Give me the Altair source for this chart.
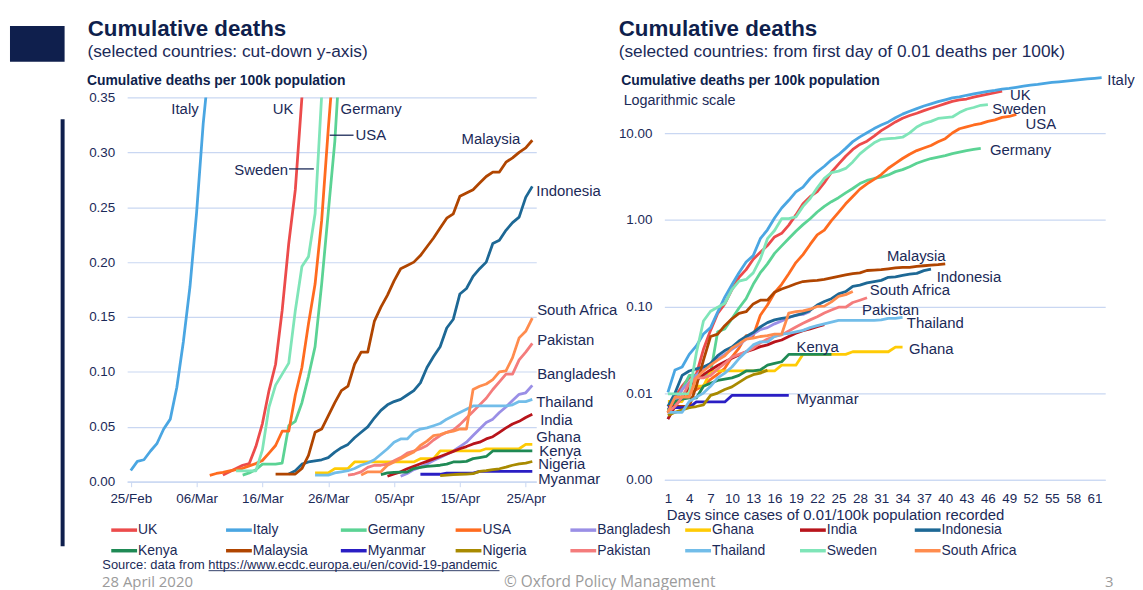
import altair as alt
import pandas as pd

# ---------------- data ----------------
countries = ["UK", "Italy", "Germany", "USA", "Bangladesh", "Ghana", "India", "Indonesia",
             "Kenya", "Malaysia", "Myanmar", "Nigeria", "Pakistan", "Thailand", "Sweden", "South Africa"]
line_colors = ["#ec4b4b", "#4aa6e2", "#5bd394", "#ff6b1f", "#9a8fe6", "#ffcb05", "#b8141b", "#1d6895",
               "#1f8a55", "#b04500", "#2a1ec4", "#a88a00", "#f47c7c", "#72bde9", "#7fe5b8", "#ff8c4e"]
# index of the first plotted day in the left chart (0 = 25 Feb)
start_index = [14, 0, 17, 12, 41, 28, 39, 24, 38, 22, 44, 47, 33, 28, 16, 35]

uk = [0.006, 0.009, 0.012, 0.015, 0.0165, 0.032, 0.053, 0.083, 0.107, 0.156,
      0.217, 0.266, 0.350, 0.423, 0.504, 0.635, 0.699, 0.869, 1.14, 1.53,
      1.85, 2.12, 2.69, 3.54, 4.39, 5.42, 6.49, 7.42, 8.08, 9.26,
      10.7, 12.0, 13.5, 14.9, 16.0, 17.0, 18.2, 19.4, 20.6, 21.9,
      23.3, 24.2, 24.8, 26.1, 27.2, 28.2, 29.3, 30.6]
italy = [0.0102, 0.0185, 0.020, 0.028, 0.035, 0.048, 0.057, 0.086, 0.128, 0.178,
         0.245, 0.326, 0.386, 0.606, 0.767, 1.05, 1.37, 1.68, 2.10, 2.39,
         3.00, 3.58, 4.15, 4.93, 5.64, 6.68, 7.99, 9.07, 10.1, 11.3,
         12.4, 13.5, 15.1, 16.6, 17.9, 19.2, 20.6, 21.8, 23.1, 24.3,
         25.5, 26.3, 27.4, 28.4, 29.3, 30.3, 31.2, 32.3, 33.0, 33.9,
         34.9, 35.9, 36.7, 37.7, 38.5, 39.2, 40.0, 40.8, 41.6, 42.3,
         43.0, 43.7]
germany = [0.006, 0.008, 0.011, 0.016, 0.016, 0.016, 0.017, 0.051, 0.055, 0.072,
           0.096, 0.123, 0.180, 0.245, 0.31, 0.41, 0.50, 0.61, 0.74, 0.88,
           1.03, 1.23, 1.43, 1.62, 1.80, 2.05, 2.30, 2.62, 2.85, 3.0,
           3.1, 3.3, 3.6, 3.8, 4.1, 4.5, 4.8, 5.1, 5.3, 5.5,
           5.8, 6.05, 6.3, 6.5, 6.68]
usa = [0.0058, 0.0075, 0.0085, 0.0098, 0.011, 0.0122, 0.0144, 0.0165, 0.0193, 0.026,
       0.033, 0.046, 0.046, 0.079, 0.104, 0.144, 0.180, 0.238, 0.321, 0.397,
       0.52, 0.67, 0.76, 0.98, 1.22, 1.53, 1.86, 2.26, 2.60, 2.93,
       3.33, 3.94, 4.49, 5.10, 5.72, 6.30, 6.75, 7.21, 7.95, 8.65,
       10.05, 11.25, 11.83, 12.44, 12.87, 13.69, 14.24, 15.22, 15.59, 16.47]
bangladesh = [0.005, 0.0075, 0.011, 0.0133, 0.016, 0.0193, 0.022, 0.025, 0.028, 0.032,
              0.036, 0.042, 0.048, 0.054, 0.057, 0.063, 0.068, 0.074, 0.0796, 0.081,
              0.0877]
ghana = [0.008, 0.008, 0.008, 0.012, 0.012, 0.012, 0.018, 0.018, 0.018, 0.018,
         0.018, 0.018, 0.018, 0.018, 0.018, 0.018, 0.021, 0.021, 0.021, 0.028,
         0.028, 0.028, 0.028, 0.028, 0.028, 0.028, 0.030, 0.030, 0.030, 0.030,
         0.030, 0.030, 0.034, 0.034]
india = [0.005, 0.007, 0.009, 0.0118, 0.014, 0.0163, 0.0185, 0.0208, 0.023, 0.0253,
         0.0276, 0.030, 0.032, 0.0344, 0.036, 0.039, 0.041, 0.045, 0.049, 0.0525,
         0.055, 0.0585, 0.0615]
indonesia = [0.007, 0.010, 0.016, 0.018, 0.019, 0.020, 0.022, 0.027, 0.031, 0.034,
             0.040, 0.045, 0.050, 0.058, 0.065, 0.070, 0.073, 0.075, 0.079, 0.083,
             0.090, 0.104, 0.114, 0.123, 0.140, 0.148, 0.171, 0.176, 0.187, 0.194,
             0.200, 0.217, 0.220, 0.229, 0.236, 0.241, 0.259, 0.269]
kenya = [0.0064, 0.008, 0.0085, 0.0088, 0.0088, 0.012, 0.013, 0.014, 0.0145, 0.015,
         0.016, 0.018, 0.018, 0.0185, 0.021, 0.022, 0.023, 0.028, 0.028, 0.028,
         0.028, 0.028, 0.028, 0.028]
malaysia = [0.007, 0.007, 0.007, 0.007, 0.012, 0.024, 0.045, 0.048, 0.060, 0.072,
            0.083, 0.087, 0.107, 0.118, 0.118, 0.146, 0.159, 0.170, 0.183, 0.194,
            0.197, 0.200, 0.206, 0.214, 0.222, 0.231, 0.240, 0.244, 0.260, 0.263,
            0.266, 0.272, 0.278, 0.282, 0.282, 0.291, 0.295, 0.300, 0.304, 0.311]
myanmar = [0.0068, 0.0068, 0.0068, 0.0068, 0.0079, 0.0079, 0.0079, 0.0079, 0.0079, 0.0094,
           0.0094, 0.0094, 0.0094, 0.0094, 0.0094, 0.0094, 0.0094, 0.0094]
nigeria = [0.0055, 0.006, 0.0064, 0.0068, 0.007, 0.0073, 0.0094, 0.010, 0.011, 0.0118,
           0.0133, 0.015, 0.0163, 0.017, 0.0184]
pakistan = [0.006, 0.007, 0.009, 0.013, 0.015, 0.015, 0.016, 0.019, 0.022, 0.026,
            0.028, 0.030, 0.033, 0.038, 0.042, 0.045, 0.047, 0.052, 0.058, 0.064,
            0.070, 0.076, 0.084, 0.091, 0.098, 0.098, 0.111, 0.118, 0.126]
thailand = [0.006, 0.006, 0.006, 0.008, 0.009, 0.010, 0.012, 0.015, 0.017, 0.020,
            0.025, 0.030, 0.036, 0.039, 0.039, 0.045, 0.048, 0.049, 0.051, 0.053,
            0.057, 0.060, 0.063, 0.066, 0.069, 0.069, 0.069, 0.069, 0.069, 0.069,
            0.070, 0.073, 0.073, 0.075]
sweden = [0.0098, 0.0098, 0.0098, 0.0098, 0.029, 0.068, 0.088, 0.098, 0.108, 0.156,
          0.196, 0.205, 0.244, 0.352, 0.606, 0.753, 1.03, 1.03, 1.08, 1.43,
          1.76, 2.34, 3.01, 3.50, 3.65, 3.92, 4.66, 5.78, 6.72, 7.75,
          8.50, 8.67, 8.79, 8.98, 10.1, 11.8, 13.0, 13.7, 14.8, 15.1,
          15.4, 17.3, 18.9, 19.8, 21.0, 21.4]
south_africa = [0.006, 0.009, 0.009, 0.009, 0.015, 0.018, 0.021, 0.024, 0.027, 0.033,
                0.037, 0.042, 0.043, 0.045, 0.046, 0.048, 0.048, 0.084, 0.087, 0.089,
                0.093, 0.100, 0.101, 0.113, 0.131, 0.137, 0.149]

series = [uk, italy, germany, usa, bangladesh, ghana, india, indonesia,
          kenya, malaysia, myanmar, nigeria, pakistan, thailand, sweden, south_africa]

left_tick_days = [0, 10, 20, 30, 40, 50, 60]
left_tick_labels = ["25/Feb", "06/Mar", "16/Mar", "26/Mar", "05/Apr", "15/Apr", "25/Apr"]
left_y_ticks = [0.0, 0.05, 0.10, 0.15, 0.20, 0.25, 0.30, 0.35]
right_x_ticks = [1, 4, 7, 10, 13, 16, 19, 22, 25, 28, 31, 34, 37, 40, 43, 46, 49, 52, 55, 58, 61]
right_y_ticks = [0.001, 0.01, 0.1, 1, 10]

# inline labels (data coordinates)
left_label_text = ["Italy", "UK", "Germany", "USA", "Sweden", "Malaysia", "Indonesia", "South Africa",
                   "Pakistan", "Bangladesh", "Thailand", "India", "Ghana", "Kenya", "Nigeria", "Myanmar"]
left_label_x = [10.31, 23.13, 31.88, 34.14, 23.89, 59.18, 61.6, 61.74,
                61.74, 61.74, 61.6, 62.2, 61.6, 62.05, 61.9, 61.9]
left_label_y = [0.339, 0.339, 0.339, 0.3156, 0.284, 0.312, 0.265, 0.1565,
                0.1293, 0.0977, 0.0724, 0.0561, 0.0407, 0.0280, 0.0163, 0.0027]
left_label_align = ["right", "center", "left", "left", "right", "right", "left", "left",
                    "left", "left", "left", "left", "left", "left", "left", "left"]
leader_x = [30.22, 24.04]
leader_x_end = [33.84, 27.81]
leader_y = [0.3156, 0.2849]

right_label_text = ["Italy", "UK", "Sweden", "USA", "Germany", "Malaysia", "Indonesia", "South Africa",
                    "Pakistan", "Thailand", "Ghana", "Kenya", "Myanmar"]
right_label_x = [62.8, 49.1, 46.6, 51.3, 46.3, 31.8, 38.8, 29.4, 28.3, 34.6, 34.9, 19.1, 19.1]
right_label_y = [41.6, 27.5, 19.1, 12.7, 6.38, 0.379, 0.218, 0.1545, 0.0912, 0.0647, 0.0326, 0.0344, 0.00848]

# ---------------- tables ----------------
rows = []
for name, start, vals in zip(countries, start_index, series):
    for i, v in enumerate(vals):
        rows.append({"country": name, "date_index": start + i, "day": i + 1, "value": v})
df = pd.DataFrame(rows)

left_labels = pd.DataFrame({"label": left_label_text, "date_index": left_label_x,
                            "value": left_label_y, "align": left_label_align})
leaders = pd.DataFrame({"date_index": leader_x, "x_end": leader_x_end, "value": leader_y})
right_labels = pd.DataFrame({"label": right_label_text, "day": right_label_x, "value": right_label_y})
one = pd.DataFrame({"k": [0]})

# ---------------- styles ----------------
FONT = "Liberation Sans"
NAVY = "#1b2a58"
DARK = "#0f1f4d"
GRID = "#c9d7f2"
GREY = "#9b9b9b"

legend = alt.Legend(title=None, orient="none", legendX=-11.5, legendY=427, direction="horizontal",
                    columns=8, symbolType="M-2,0H2", symbolSize=169, symbolStrokeWidth=3.5,
                    labelFont=FONT, labelFontSize=14, labelColor=NAVY, labelOffset=5.5,
                    columnPadding=4.6, rowPadding=5, gridAlign="all", padding=0, labelLimit=200)
color = alt.Color("country:N", scale=alt.Scale(domain=countries, range=line_colors), legend=legend)

label_expr = "{}[indexof({}, datum.value)]".format(
    "[" + ",".join("'%s'" % s for s in left_tick_labels) + "]",
    "[" + ",".join(str(v) for v in left_tick_days) + "]")

xl = alt.X("date_index:Q", scale=alt.Scale(domain=[-0.55, 61.6], nice=False, zero=False),
           axis=alt.Axis(values=left_tick_days, labelExpr=label_expr, title=None, grid=False,
                         domain=True, domainColor=GRID, domainWidth=1.2, ticks=True, tickColor=GRID,
                         tickSize=5, labelPadding=4.7, labelFontSize=13.5, labelColor=NAVY,
                         labelFont=FONT, labelFlush=False))
yl = alt.Y("value:Q", scale=alt.Scale(domain=[0, 0.35], nice=False),
           axis=alt.Axis(values=left_y_ticks, format=".2f", domain=False, ticks=False,
                         labelPadding=12.5, labelFontSize=13.5, labelColor=NAVY, labelFont=FONT,
                         grid=True, gridColor=GRID, gridWidth=1.2,
                         title="Cumulative deaths per 100k population", titleAngle=0,
                         titleAlign="left", titleBaseline="alphabetic", titleX=-41, titleY=-12.7,
                         titleFontSize=14, titleFontWeight="bold", titleColor=DARK, titleFont=FONT))

xr = alt.X("day:Q", scale=alt.Scale(domain=[0.5, 62.5], nice=False, zero=False),
           axis=alt.Axis(values=right_x_ticks, grid=False, domain=True, domainColor=GRID,
                         domainWidth=1.2, ticks=False, labelPadding=11.7, labelFontSize=13.5,
                         labelColor=NAVY, labelFont=FONT, labelFlush=False,
                         title="Days since cases of 0.01/100k population recorded",
                         titleAnchor="start", titleAlign="left", titleBaseline="alphabetic",
                         titleX=2, titleY=40, titleFontSize=15, titleFontWeight="normal",
                         titleColor=NAVY, titleFont=FONT))
yr = alt.Y("value:Q", scale=alt.Scale(type="log", domain=[0.001, 25.86], nice=False),
           axis=alt.Axis(values=right_y_ticks, format=".2f", domain=False, ticks=False,
                         labelPadding=12.5, labelFontSize=13.5, labelColor=NAVY, labelFont=FONT,
                         grid=True, gridColor=GRID, gridWidth=1.2,
                         title="Cumulative deaths per 100k population", titleAngle=0,
                         titleAlign="left", titleBaseline="alphabetic", titleX=-44, titleY=-12.7,
                         titleFontSize=14, titleFontWeight="bold", titleColor=DARK, titleFont=FONT))


def text_at(x, y, text, size, color=NAVY, weight="normal", font=FONT, align="left"):
    return alt.Chart(one).mark_text(text=text, fontSize=size, fontWeight=weight, font=font,
                                    color=color, align=align, baseline="alphabetic").encode(
        x=alt.value(x), y=alt.value(y))


def box_at(x, x2, y, y2, color=DARK, opacity=1.0):
    return alt.Chart(one).mark_rect(color=color, opacity=opacity).encode(
        x=alt.value(x), x2=alt.value(x2), y=alt.value(y), y2=alt.value(y2))


# ---------------- left panel ----------------
left_lines = alt.Chart(df).mark_line(strokeWidth=2.8, clip=True, strokeJoin="round").encode(
    x=xl, y=yl, color=color)

left_label_layers = [
    alt.Chart(left_labels).transform_filter(alt.datum.align == a).mark_text(
        align=a, baseline="middle", fontSize=15, font=FONT, color=NAVY).encode(
        x=xl, y=yl, text="label:N")
    for a in ["left", "right", "center"]
]
leader_rules = alt.Chart(leaders).mark_rule(color=NAVY, strokeWidth=1.3).encode(
    x=xl, x2="x_end:Q", y=yl)

url_rule = alt.Chart(one).mark_rule(color=NAVY, strokeWidth=0.9).encode(
    x=alt.value(82), x2=alt.value(375), y=alt.value(476.6))

left = alt.layer(
    box_at(-120, -119, -88, -87, opacity=0.0),   # layout anchor (page origin)
    box_at(-118, -63, -72, -36),                  # logo block
    box_at(-67, -63, 22, 452),                    # side bar
    text_at(-39.7, -62, "Cumulative deaths", 22.5, color=DARK, weight="bold"),
    text_at(-40, -40.5, "(selected countries: cut-down y-axis)", 17.4),
    text_at(-25, 474.7, "Source: data from https://www.ecdc.europa.eu/en/covid-19-pandemic", 13),
    url_rule,
    text_at(-25.3, 493, "28 April 2020", 15, color=GREY, font="Open Sans"),
    text_at(486, 493, "\u00a9 Oxford Policy Management", 15.5, color=GREY, font="Open Sans", align="center"),
    text_at(989, 493, "3", 15, color=GREY, font="Open Sans", align="center"),
    left_lines,
    *left_label_layers,
    leader_rules,
).properties(width=412, height=387)

# ---------------- right panel ----------------
right_lines = alt.Chart(df).mark_line(strokeWidth=2.8, clip=False, strokeJoin="round").encode(
    x=xr, y=yr, color=color)
right_label_layer = alt.Chart(right_labels).mark_text(
    align="left", baseline="middle", fontSize=15, font=FONT, color=NAVY).encode(
    x=xr, y=yr, text="label:N")

right = alt.layer(
    text_at(-46, -62, "Cumulative deaths", 22.5, color=DARK, weight="bold"),
    text_at(-46, -40.5, "(selected countries: from first day of 0.01 deaths per 100k)", 17.4),
    text_at(-41, 7.3, "Logarithmic scale", 14.5),
    right_lines,
    right_label_layer,
).properties(width=444, height=385)

chart = alt.hconcat(left, right, spacing=129, bounds="flush").properties(
    padding=0, background="white"
).configure_view(stroke=None)

chart.save("out.html", embed_options={"renderer": "svg", "actions": False})
